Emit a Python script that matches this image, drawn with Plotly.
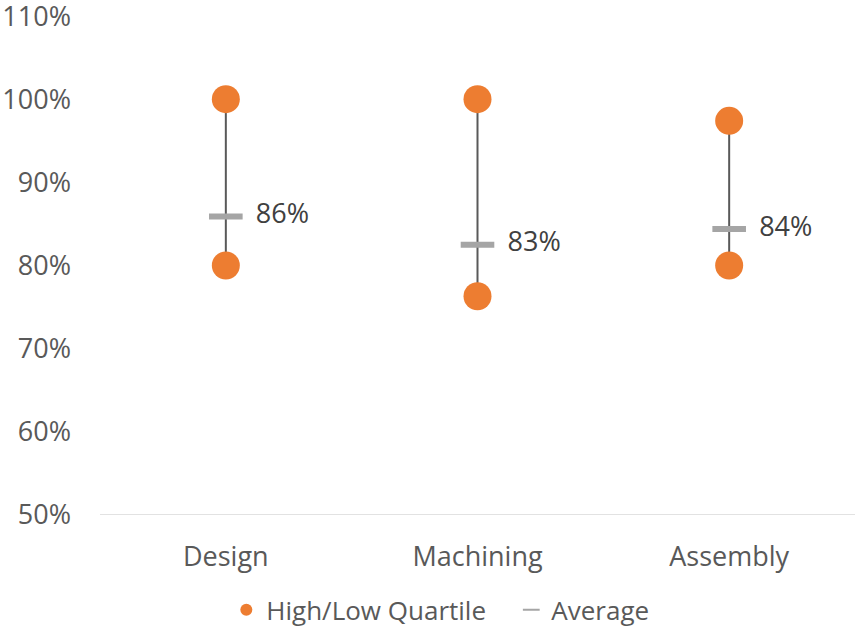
import plotly.graph_objects as go

categories = ["Design", "Machining", "Assembly"]
high_q = [1.00, 1.00, 0.974]
low_q = [0.80, 0.763, 0.80]
average = [0.859, 0.825, 0.844]
avg_labels = ["86%", "83%", "84%"]
y_ticks = [0.5, 0.6, 0.7, 0.8, 0.9, 1.0, 1.1]
y_tick_labels = ["50%", "60%", "70%", "80%", "90%", "100%", "110%"]

xpos = list(range(len(categories)))
font = "Open Sans, Noto Sans, sans-serif"

# vertical connector lines
lx, ly = [], []
for i in xpos:
    lx += [i, i, None]
    ly += [low_q[i], high_q[i], None]

fig = go.Figure()
fig.add_trace(go.Scatter(x=lx, y=ly, mode="lines", line=dict(color="#595959", width=2),
                         showlegend=False, hoverinfo="skip"))
fig.add_trace(go.Scatter(x=xpos + xpos, y=high_q + low_q, mode="markers",
                         marker=dict(color="#ED7D31", size=28, line=dict(width=0)),
                         name="High/Low Quartile   "))
fig.add_trace(go.Scatter(x=xpos, y=average, mode="markers+text",
                         text=["  " + t for t in avg_labels],
                         textposition="middle right",
                         textfont=dict(size=27, color="#404040", family=font),
                         marker=dict(symbol="line-ew", size=24, color="#A5A5A5",
                                     line=dict(color="#A5A5A5", width=6)),
                         name="Average"))

fig.update_layout(
    width=855, height=633,
    margin=dict(l=100, r=0, t=16, b=118, autoexpand=False),
    paper_bgcolor="white", plot_bgcolor="white",
    font=dict(family=font, size=27, color="#595959"),
    xaxis=dict(range=[-0.5, 2.5], tickvals=xpos, ticktext=categories, showgrid=False,
               zeroline=False, showline=False, ticks="", ticklen=0, ticklabelstandoff=23,
               automargin=False, tickfont=dict(size=27, color="#595959")),
    yaxis=dict(range=[0.4999, 1.1001], tickvals=y_ticks, ticktext=y_tick_labels, showgrid=False,
               zeroline=False, showline=False, ticks="", ticklabelstandoff=28,
               ticklabeloverflow="allow", automargin=False,
               tickfont=dict(size=27, color="#595959")),
    legend=dict(orientation="h", x=0.515, xanchor="center", xref="container",
                y=-0.19, yanchor="middle", yref="paper",
                font=dict(size=26, color="#595959"), itemsizing="constant"),
    shapes=[dict(type="line", xref="paper", yref="y", x0=0, x1=1, y0=0.5, y1=0.5,
                 line=dict(color="#D9D9D9", width=1.5))],
)

fig.write_html("out.html")
